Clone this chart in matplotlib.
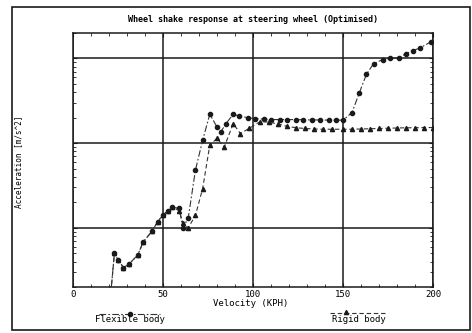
import matplotlib
matplotlib.use("Agg")
import matplotlib.pyplot as plt
from matplotlib.ticker import MultipleLocator, LogLocator, NullFormatter
from matplotlib.lines import Line2D
from matplotlib.patches import Rectangle

# flexible body (circles, dash-dot)
flex_v = [20, 23, 25, 28, 31, 36, 39, 44, 47, 50, 53, 55, 59, 61, 64, 68, 72, 76,
          80, 82, 85, 89, 92, 97, 101, 106, 110, 115, 119, 124, 128, 133, 137, 142,
          146, 150, 155, 159, 163, 167, 172, 176, 181, 185, 189, 193, 199]
flex_a = [0.1, 0.50, 0.42, 0.34, 0.37, 0.48, 0.68, 0.92, 1.18, 1.42, 1.6, 1.75, 1.7,
          1.0, 1.3, 4.8, 10.8, 22, 15.5, 13.5, 17, 22, 21, 20, 19.5, 19.2, 19, 19,
          19, 19, 18.9, 18.8, 18.8, 18.7, 18.7, 18.7, 23, 39, 65, 87, 97, 100, 102,
          114, 124, 134, 158]

# rigid body (triangles, dashed)
rig_v = [20, 23, 25, 28, 31, 36, 39, 44, 47, 50, 53, 55, 59, 61, 64, 68, 72, 76,
         80, 84, 89, 93, 98, 104, 109, 114, 119, 124, 129, 134, 139, 144, 150,
         155, 160, 165, 170, 175, 180, 185, 190, 195, 200]
rig_a = [0.1, 0.50, 0.42, 0.34, 0.37, 0.48, 0.68, 0.92, 1.18, 1.42, 1.6, 1.75, 1.6,
         1.15, 1.0, 1.4, 2.9, 9.5, 11.4, 9.0, 17, 13, 15, 18, 17.7, 16.8, 15.8,
         15.2, 14.9, 14.7, 14.6, 14.6, 14.6, 14.6, 14.7, 14.8, 14.9, 15.0, 15.1,
         15.2, 15.2, 15.3, 15.3]

x_ticks = [0, 50, 100, 150, 200]

mono = "DejaVu Sans Mono"
ink = "#1a1a1a"

fig = plt.figure(figsize=(4.72, 3.33), dpi=100)
ax = fig.add_axes([0.1547, 0.1381, 0.7627, 0.7628])

ax.plot(flex_v, flex_a, color="#333333", lw=0.8, linestyle=(0, (6, 2, 1.5, 2)),
        marker="o", markersize=3, markerfacecolor=ink, markeredgecolor=ink)
ax.plot(rig_v, rig_a, color="#333333", lw=0.8, linestyle=(0, (4, 2.5)),
        marker="^", markersize=3, markerfacecolor=ink, markeredgecolor=ink)

ax.set_yscale("log")
ax.set_xlim(0, 200)
ax.set_ylim(0.2, 200)
ax.set_xticks(x_ticks)
ax.set_xticklabels([str(t) for t in x_ticks], fontfamily=mono, fontsize=6.5)
ax.xaxis.set_minor_locator(MultipleLocator(10))
ax.yaxis.set_major_locator(LogLocator(base=10, numticks=10))
ax.yaxis.set_minor_locator(LogLocator(base=10, subs=range(2, 10), numticks=20))
ax.yaxis.set_major_formatter(NullFormatter())
ax.yaxis.set_minor_formatter(NullFormatter())
ax.tick_params(which="both", direction="in", top=True, right=True, color=ink)
ax.tick_params(which="major", length=3, pad=2)
ax.tick_params(which="minor", length=2)
ax.grid(True, which="major", color=ink, lw=1.1)
for s in ax.spines.values():
    s.set_linewidth(1.1)
    s.set_color(ink)

ax.set_title("Wheel shake response at steering wheel (Optimised)",
             fontfamily=mono, fontsize=6, fontweight="bold", pad=8)
fig.text(0.53, 0.088, "Velocity (KPH)", fontfamily=mono, fontsize=6.5,
         ha="center", va="center")
fig.text(0.04, 0.515, "Acceleration [m/s^2]", fontfamily=mono, fontsize=5.5,
         rotation=90, ha="center", va="center")

# legend drawn under the axes
fig.add_artist(Line2D([0.21, 0.34], [0.058, 0.058], color="#333333", lw=0.8,
                      linestyle=(0, (6, 2, 1.5, 2))))
fig.add_artist(Line2D([0.275], [0.058], marker="o", markersize=3, color=ink))
fig.text(0.275, 0.040, "Flexible body", fontfamily=mono, fontsize=6.5,
         ha="center", va="center")
fig.add_artist(Line2D([0.70, 0.82], [0.060, 0.060], color="#333333", lw=0.8,
                      linestyle=(0, (4, 2.5))))
fig.add_artist(Line2D([0.733], [0.062], marker="^", markersize=3, color=ink))
fig.text(0.76, 0.040, "Rigid body", fontfamily=mono, fontsize=6.5,
         ha="center", va="center")

# outer frame of the scanned page
fig.add_artist(Rectangle((12 / 472, 3 / 333), 458 / 472, 323 / 333,
                         fill=False, lw=1.2, edgecolor=ink,
                         transform=fig.transFigure))

fig.savefig("out.png", dpi=100)
